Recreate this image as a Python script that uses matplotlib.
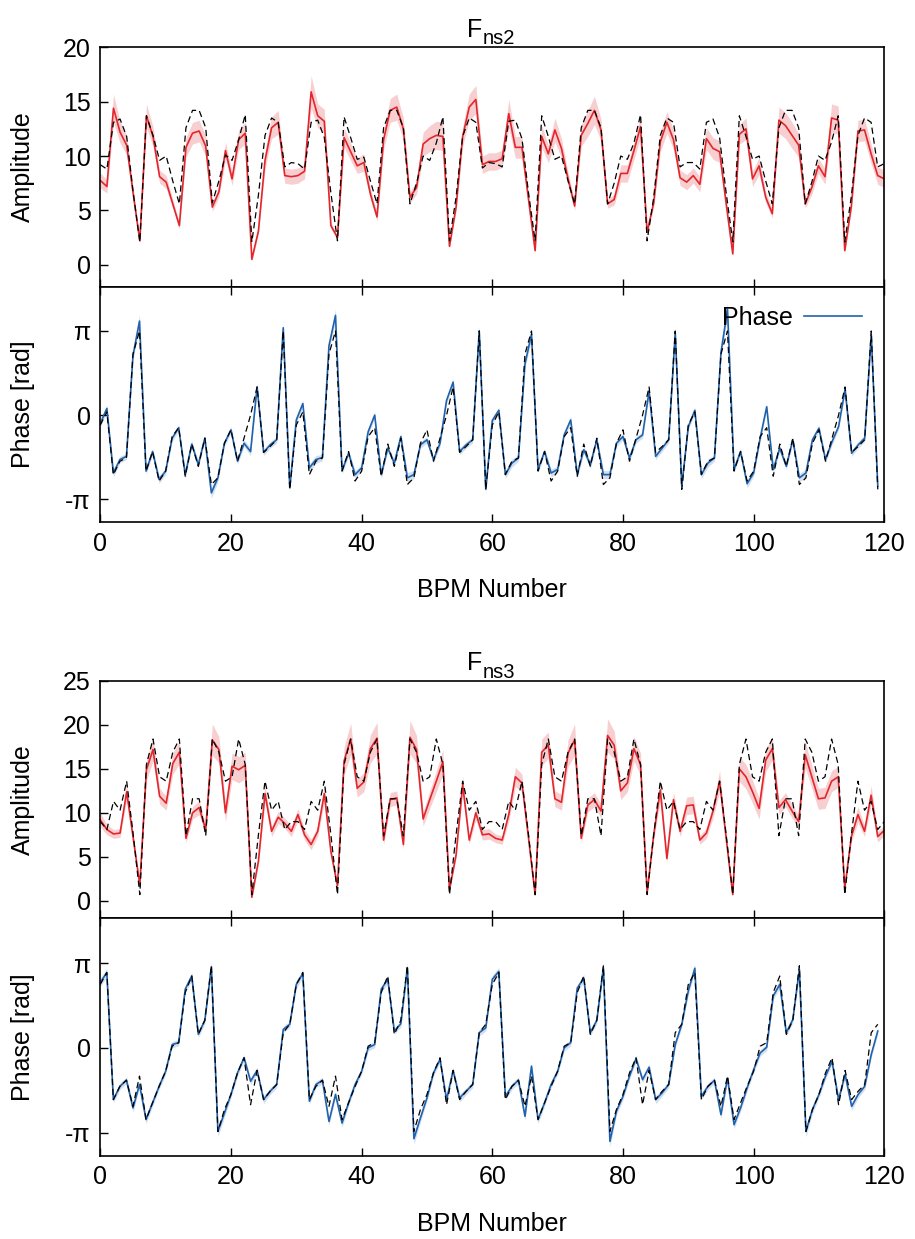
import numpy as np
import matplotlib
matplotlib.use("Agg")
import matplotlib.pyplot as plt

plt.rcParams['font.family'] = ['Liberation Sans', 'DejaVu Sans']

# ---------------------------------------------------------------- data
bpm = np.arange(120)

# F_ns2 amplitude: measured, its uncertainty, and model
ns2_amp = [7.75, 7.2, 14.4, 12.2, 11.0, 6.5, 2.2, 13.7, 11.8, 8.1,
           7.6, 5.6, 3.6, 10.8, 12.1, 12.3, 10.9, 5.3, 6.7, 10.5,
           7.9, 11.5, 12.1, 0.5, 3.1, 9.6, 12.6, 13.1, 8.2, 8.1,
           8.2, 8.6, 15.9, 13.7, 13.2, 3.6, 2.5, 11.7, 10.4, 9.1,
           9.4, 6.5, 4.4, 11.5, 14.2, 14.5, 12.5, 6.2, 7.1, 11.1,
           11.6, 11.9, 11.8, 1.7, 5.3, 11.8, 14.5, 15.2, 9.2, 9.5,
           9.5, 9.75, 13.9, 10.8, 10.8, 6.0, 1.3, 11.8, 10.2, 12.4,
           10.7, 7.9, 5.4, 11.9, 13.0, 14.2, 12.4, 5.6, 6.0, 8.4,
           8.4, 10.5, 12.7, 3.0, 5.7, 11.3, 13.1, 11.5, 8.0, 7.6,
           8.2, 7.4, 11.6, 10.7, 10.4, 5.6, 1.0, 12.0, 12.5, 7.9,
           9.1, 6.2, 4.7, 13.3, 12.8, 11.9, 11.0, 5.6, 7.1, 9.1,
           8.1, 13.5, 13.3, 1.3, 5.4, 12.3, 12.4, 10.2, 8.2, 7.9]
ns2_amp_err = [0.7, 0.6, 1.3, 1.0, 0.9, 0.5, 0.2, 1.1, 0.9, 0.6,
               0.6, 0.4, 0.3, 0.9, 1.0, 1.0, 0.9, 0.4, 0.5, 0.8,
               0.6, 0.9, 1.0, 0.2, 0.3, 0.8, 1.0, 1.1, 0.7, 0.7,
               0.7, 0.7, 1.5, 1.1, 1.1, 0.3, 0.2, 0.9, 0.8, 0.7,
               0.8, 0.5, 0.4, 0.9, 1.1, 1.2, 1.0, 0.5, 0.6, 1.1,
               1.2, 1.3, 1.3, 0.2, 0.4, 0.9, 1.2, 1.3, 0.8, 0.8,
               0.8, 0.8, 1.3, 1.0, 1.0, 0.5, 0.2, 1.0, 0.8, 1.1,
               0.9, 0.6, 0.4, 1.0, 1.2, 1.3, 1.0, 0.4, 0.5, 0.8,
               0.8, 0.8, 1.0, 0.3, 0.4, 0.9, 1.0, 0.9, 0.7, 0.7,
               0.7, 0.7, 1.0, 1.0, 1.0, 0.4, 0.2, 0.9, 1.0, 0.7,
               0.8, 0.5, 0.4, 1.2, 1.2, 1.2, 1.1, 0.4, 0.6, 0.7,
               0.7, 1.3, 1.3, 0.2, 0.4, 1.0, 1.0, 0.9, 0.8, 0.8]
ns2_amp_model = [9.2, 8.8, 13.1, 13.4, 11.8, 6.6, 2.1, 13.7, 11.9, 9.6,
                 10.0, 7.7, 5.6, 12.6, 14.2, 14.2, 12.6, 5.7, 7.7, 10.1,
                 9.6, 11.5, 13.8, 2.1, 6.4, 11.9, 13.5, 13.1, 9.0, 9.4,
                 9.3, 8.8, 13.1, 13.3, 11.7, 6.6, 2.2, 13.6, 11.7, 9.7,
                 9.9, 7.7, 5.6, 12.6, 14.2, 14.2, 12.6, 5.6, 7.5, 10.0,
                 9.6, 11.2, 13.6, 2.2, 6.2, 11.8, 13.5, 13.1, 8.9, 9.4,
                 9.3, 9.0, 13.2, 13.3, 11.6, 6.6, 2.2, 13.7, 11.8, 9.7,
                 10.0, 7.7, 5.6, 12.6, 14.2, 14.2, 12.6, 5.6, 7.5, 10.0,
                 9.7, 11.2, 13.8, 2.2, 6.2, 11.9, 13.5, 13.1, 9.0, 9.4,
                 9.4, 8.8, 13.1, 13.4, 11.7, 6.6, 2.1, 13.7, 11.8, 9.7,
                 10.0, 7.7, 5.6, 12.6, 14.2, 14.2, 12.6, 5.6, 7.6, 10.0,
                 9.6, 11.3, 13.7, 2.1, 6.3, 11.9, 13.5, 13.1, 9.0, 9.3]

# F_ns2 phase [rad]
ns2_phase = [-0.31, 0.25, -2.16, -1.66, -1.54, 2.22, 3.51, -2.09, -1.36, -2.40,
             -2.09, -0.86, -0.47, -2.22, -1.08, -1.85, -0.86, -2.90, -2.34, -1.05,
             -0.55, -1.72, -1.05, -1.36, 1.05, -1.39, -1.11, -0.92, 3.26, -2.71,
             -0.18, 0.43, -1.97, -1.66, -1.58, 2.59, 3.72, -2.07, -1.42, -2.22,
             -1.97, -0.62, 0.00, -2.22, -1.23, -1.79, -0.80, -2.34, -2.22, -1.11,
             -0.92, -1.66, -1.05, 0.55, 1.23, -1.36, -1.11, -0.92, 3.14, -2.77,
             -0.20, 0.18, -2.22, -1.79, -1.60, 1.91, 3.02, -2.03, -1.36, -2.16,
             -2.03, -0.74, -0.18, -2.22, -1.29, -1.85, -0.92, -2.22, -2.22, -1.05,
             -0.80, -1.60, -0.92, -0.74, 0.89, -1.54, -1.23, -0.92, 3.08, -2.65,
             -0.43, 0.18, -2.22, -1.79, -1.60, 2.34, 3.94, -2.03, -1.36, -2.56,
             -2.16, -0.86, 0.31, -2.03, -1.23, -1.91, -0.92, -2.34, -2.16, -0.92,
             -0.49, -1.66, -0.99, -0.43, 0.96, -1.42, -1.11, -0.86, 3.02, -2.65]
ns2_phase_err = [0.12, 0.12, 0.15, 0.12, 0.12, 0.15, 0.25, 0.12, 0.12, 0.15,
                 0.12, 0.12, 0.12, 0.15, 0.12, 0.12, 0.12, 0.2, 0.15, 0.12,
                 0.12, 0.12, 0.12, 0.15, 0.12, 0.12, 0.12, 0.12, 0.2, 0.15,
                 0.12, 0.12, 0.15, 0.15, 0.12, 0.15, 0.25, 0.12, 0.12, 0.15,
                 0.12, 0.12, 0.12, 0.15, 0.12, 0.12, 0.12, 0.2, 0.15, 0.12,
                 0.12, 0.12, 0.12, 0.12, 0.12, 0.12, 0.12, 0.12, 0.2, 0.15,
                 0.12, 0.12, 0.15, 0.15, 0.12, 0.15, 0.2, 0.12, 0.12, 0.15,
                 0.12, 0.12, 0.12, 0.15, 0.12, 0.15, 0.12, 0.15, 0.15, 0.12,
                 0.12, 0.12, 0.12, 0.12, 0.12, 0.12, 0.12, 0.12, 0.2, 0.15,
                 0.12, 0.12, 0.15, 0.15, 0.12, 0.15, 0.25, 0.12, 0.12, 0.15,
                 0.12, 0.12, 0.12, 0.15, 0.12, 0.12, 0.12, 0.15, 0.15, 0.12,
                 0.12, 0.12, 0.12, 0.12, 0.12, 0.12, 0.12, 0.12, 0.2, 0.15]
ns2_phase_model = [-0.37, 0.12, -2.22, -1.72, -1.60, 2.28, 3.14, -2.09, -1.36, -2.46,
                   -2.09, -0.80, -0.47, -2.28, -1.08, -1.91, -0.86, -2.59, -2.34, -1.05,
                   -0.55, -1.72, -0.86, 0.00, 1.05, -1.39, -1.17, -0.92, 3.14, -2.77,
                   -0.37, 0.12, -2.22, -1.72, -1.60, 2.28, 3.14, -2.09, -1.36, -2.46,
                   -2.09, -0.80, -0.47, -2.28, -1.08, -1.91, -0.86, -2.59, -2.34, -1.05,
                   -0.55, -1.72, -0.86, 0.00, 1.05, -1.39, -1.17, -0.92, 3.14, -2.77,
                   -0.37, 0.12, -2.22, -1.72, -1.60, 2.28, 3.14, -2.09, -1.36, -2.46,
                   -2.09, -0.80, -0.47, -2.28, -1.08, -1.91, -0.86, -2.59, -2.34, -1.05,
                   -0.55, -1.72, -0.86, 0.00, 1.05, -1.39, -1.17, -0.92, 3.14, -2.77,
                   -0.37, 0.12, -2.22, -1.72, -1.60, 2.28, 3.14, -2.09, -1.36, -2.46,
                   -2.09, -0.80, -0.47, -2.28, -1.08, -1.91, -0.86, -2.59, -2.34, -1.05,
                   -0.55, -1.72, -0.86, 0.00, 1.05, -1.39, -1.17, -0.92, 3.14, -2.77]

# F_ns3 amplitude
ns3_amp = [9.2, 8.1, 7.6, 7.7, 12.4, 7.1, 1.8, 14.9, 17.2, 11.9,
           11.1, 15.6, 16.9, 7.1, 10.0, 10.6, 8.1, 18.3, 17.2, 10.0,
           15.3, 14.9, 15.4, 0.4, 4.5, 12.2, 7.9, 9.5, 8.8, 7.9,
           9.8, 7.5, 6.4, 7.9, 12.2, 5.6, 1.7, 15.9, 18.4, 12.8,
           13.5, 17.3, 18.5, 6.9, 11.5, 11.7, 6.4, 18.6, 17.2, 9.3,
           11.5, 13.6, 15.8, 1.25, 5.2, 13.2, 6.9, 10.0, 7.5, 7.6,
           7.1, 6.9, 9.8, 14.1, 13.4, 7.1, 0.7, 16.9, 17.7, 11.6,
           11.2, 16.8, 18.3, 7.1, 10.9, 11.5, 10.2, 18.8, 17.7, 12.5,
           13.4, 17.3, 15.5, 0.9, 7.5, 12.6, 4.8, 11.5, 7.9, 10.8,
           10.9, 6.9, 7.7, 10.2, 13.6, 7.1, 0.7, 15.0, 14.1, 12.4,
           10.5, 16.0, 17.3, 10.6, 11.5, 10.2, 9.0, 16.6, 14.1, 11.6,
           11.7, 13.6, 14.1, 1.4, 7.3, 9.8, 7.9, 12.0, 7.3, 8.0]
ns3_amp_err = [0.8, 0.6, 0.5, 0.5, 0.9, 0.5, 0.2, 1.2, 1.3, 0.9,
               0.8, 1.2, 1.3, 0.5, 0.7, 0.8, 0.6, 1.8, 1.5, 1.0,
               1.5, 1.5, 1.5, 0.2, 0.4, 0.9, 0.6, 0.7, 0.6, 0.6,
               0.7, 0.6, 0.6, 0.6, 0.9, 0.4, 0.2, 1.6, 1.8, 1.0,
               1.1, 1.6, 1.8, 0.5, 0.8, 0.8, 0.5, 1.9, 1.6, 0.8,
               1.0, 1.2, 1.4, 0.2, 0.4, 1.0, 0.5, 0.8, 0.6, 0.6,
               0.5, 0.5, 0.8, 1.1, 1.0, 0.5, 0.2, 1.5, 1.5, 0.9,
               0.9, 1.5, 1.8, 0.5, 0.8, 0.8, 0.8, 1.9, 1.6, 1.0,
               1.0, 1.4, 1.3, 0.2, 0.6, 1.2, 0.4, 0.9, 0.6, 1.0,
               1.0, 0.5, 0.6, 0.8, 1.2, 0.5, 0.2, 1.4, 1.4, 1.3,
               1.2, 1.3, 1.3, 0.8, 0.8, 0.8, 0.7, 1.5, 1.3, 1.2,
               1.2, 1.2, 1.2, 0.2, 0.6, 0.9, 0.6, 1.1, 0.6, 0.6]
ns3_amp_model = [9.0, 8.1, 11.3, 10.3, 13.6, 7.5, 0.7, 15.5, 18.4, 14.1,
                 13.6, 16.9, 18.4, 7.4, 11.6, 11.6, 7.4, 18.4, 16.9, 13.6,
                 14.1, 18.4, 15.5, 0.7, 7.5, 13.6, 10.3, 11.3, 8.1, 9.0,
                 9.0, 8.1, 11.3, 10.3, 13.6, 7.5, 0.7, 15.5, 18.4, 14.1,
                 13.6, 16.9, 18.4, 7.4, 11.6, 11.6, 7.4, 18.4, 16.9, 13.6,
                 14.1, 18.4, 15.5, 0.7, 7.5, 13.6, 10.3, 11.3, 8.1, 9.0,
                 9.0, 8.1, 11.3, 10.3, 13.6, 7.5, 0.7, 15.5, 18.4, 14.1,
                 13.6, 16.9, 18.4, 7.4, 11.6, 11.6, 7.4, 18.4, 16.9, 13.6,
                 14.1, 18.4, 15.5, 0.7, 7.5, 13.6, 10.3, 11.3, 8.1, 9.0,
                 9.0, 8.1, 11.3, 10.3, 13.6, 7.5, 0.7, 15.5, 18.4, 14.1,
                 13.6, 16.9, 18.4, 7.4, 11.6, 11.6, 7.4, 18.4, 16.9, 13.6,
                 14.1, 18.4, 15.5, 0.7, 7.5, 13.6, 10.3, 11.3, 8.1, 9.0]

# F_ns3 phase [rad]
ns3_phase = [2.42, 2.79, -1.92, -1.43, -1.20, -2.23, -1.36, -2.66, -2.04, -1.43,
             -0.87, 0.12, 0.19, 2.17, 2.66, 0.50, 1.02, 3.00, -3.10, -2.42,
             -1.73, -0.93, -0.37, -1.24, -0.84, -1.92, -1.61, -1.36, 0.68, 0.87,
             2.35, 2.75, -1.98, -1.36, -1.21, -2.73, -1.73, -2.79, -2.04, -1.36,
             -0.87, 0.00, 0.12, 2.17, 2.54, 0.62, 0.89, 2.97, -3.37, -2.60,
             -1.86, -0.93, -0.43, -1.92, -0.84, -1.86, -1.61, -1.36, 0.56, 0.74,
             2.54, 2.83, -1.80, -1.43, -1.20, -2.54, -0.68, -2.66, -2.04, -1.36,
             -0.87, 0.00, 0.19, 2.21, 2.58, 0.56, 1.02, 2.97, -3.47, -2.35,
             -1.80, -1.05, -0.40, -1.18, -0.72, -1.92, -1.67, -1.36, 0.12, 0.87,
             2.11, 2.95, -1.80, -1.43, -1.21, -2.48, -1.12, -2.85, -2.23, -1.49,
             -0.81, -0.19, 0.02, 1.92, 2.35, 0.56, 1.05, 2.91, -3.10, -2.29,
             -1.73, -1.05, -0.50, -1.92, -0.99, -2.17, -1.73, -1.43, -0.25, 0.62]
ns3_phase_err = [0.15, 0.15, 0.12, 0.12, 0.12, 0.15, 0.12, 0.15, 0.12, 0.12,
                 0.12, 0.12, 0.12, 0.12, 0.15, 0.12, 0.12, 0.2, 0.2, 0.15,
                 0.12, 0.12, 0.12, 0.12, 0.12, 0.15, 0.12, 0.12, 0.12, 0.12,
                 0.15, 0.15, 0.12, 0.12, 0.12, 0.15, 0.12, 0.15, 0.12, 0.12,
                 0.12, 0.12, 0.12, 0.12, 0.15, 0.12, 0.12, 0.2, 0.2, 0.15,
                 0.12, 0.12, 0.12, 0.12, 0.12, 0.15, 0.12, 0.12, 0.12, 0.12,
                 0.15, 0.15, 0.12, 0.12, 0.12, 0.15, 0.12, 0.15, 0.12, 0.12,
                 0.12, 0.12, 0.12, 0.12, 0.15, 0.12, 0.12, 0.2, 0.2, 0.15,
                 0.12, 0.12, 0.12, 0.12, 0.12, 0.15, 0.12, 0.12, 0.12, 0.12,
                 0.15, 0.15, 0.12, 0.12, 0.12, 0.15, 0.12, 0.15, 0.12, 0.12,
                 0.12, 0.12, 0.12, 0.12, 0.15, 0.12, 0.12, 0.2, 0.2, 0.15,
                 0.12, 0.12, 0.12, 0.12, 0.12, 0.15, 0.12, 0.12, 0.12, 0.12]
ns3_phase_model = [2.35, 2.79, -1.92, -1.43, -1.20, -2.17, -1.05, -2.66, -2.04, -1.43,
                   -0.87, 0.06, 0.19, 2.05, 2.66, 0.50, 1.02, 3.04, -3.10, -2.29,
                   -1.73, -0.93, -0.37, -2.11, -0.84, -1.92, -1.61, -1.36, 0.56, 0.87,
                   2.35, 2.79, -1.92, -1.43, -1.20, -2.17, -1.05, -2.66, -2.04, -1.43,
                   -0.87, 0.06, 0.19, 2.05, 2.66, 0.50, 1.02, 3.04, -3.10, -2.29,
                   -1.73, -0.93, -0.37, -2.11, -0.84, -1.92, -1.61, -1.36, 0.56, 0.87,
                   2.35, 2.79, -1.92, -1.43, -1.20, -2.17, -1.05, -2.66, -2.04, -1.43,
                   -0.87, 0.06, 0.19, 2.05, 2.66, 0.50, 1.02, 3.04, -3.10, -2.29,
                   -1.73, -0.93, -0.37, -2.11, -0.84, -1.92, -1.61, -1.36, 0.56, 0.87,
                   2.35, 2.79, -1.92, -1.43, -1.20, -2.17, -1.05, -2.66, -2.04, -1.43,
                   -0.87, 0.06, 0.19, 2.05, 2.66, 0.50, 1.02, 3.04, -3.10, -2.29,
                   -1.73, -0.93, -0.37, -2.11, -0.84, -1.92, -1.61, -1.36, 0.56, 0.87]

titles = ["ns2", "ns3"]
x_ticks = [0, 20, 40, 60, 80, 100, 120]
phase_ticks = [-np.pi, 0, np.pi]
phase_ticklabels = ["-\u03c0", "0", "\u03c0"]

# ---------------------------------------------------------------- style
RED = "#e3262c"
BLUE = "#2062ad"
FS = 18
FS_SUB = 14.5

# amplitude samples are spread evenly over the full 0..120 span
amp_x = bpm * 120.0 / 119.0

W, H = 915, 1239
fig = plt.figure(figsize=(W / 100, H / 100), dpi=100)


def axes_px(top, bottom, left=100.3, right=884.3):
    return fig.add_axes([left / W, 1 - bottom / H, (right - left) / W, (bottom - top) / H])


def style(ax, top_ticks):
    for s in ax.spines.values():
        s.set_linewidth(1.2)
    ax.tick_params(axis="both", direction="in", length=6, width=1.0,
                   labelsize=FS, top=top_ticks, right=False)
    ax.tick_params(axis="y", pad=7)
    ax.tick_params(axis="x", pad=7)
    ax.set_xlim(0, 120)
    ax.set_xticks(x_ticks)


def amp_panel(ax, meas, err, model, ymax, yticks):
    meas = np.asarray(meas)
    err = np.asarray(err)
    ax.fill_between(amp_x, meas - err, meas + err, color=RED, alpha=0.22, lw=0)
    ax.plot(amp_x, meas, color=RED, lw=1.2)
    ax.plot(amp_x, model, color="black", lw=0.9, dashes=(5, 3))
    ax.set_ylim(-2, ymax)
    ax.set_yticks(yticks)
    style(ax, top_ticks=False)
    ax.tick_params(axis="x", labelbottom=False)
    ax.set_ylabel("Amplitude", fontsize=FS)
    ax.yaxis.set_label_coords(-0.083, 0.5)


def phase_panel(ax, meas, err, model, legend):
    meas = np.asarray(meas)
    err = np.asarray(err)
    ax.fill_between(bpm, meas - err, meas + err, color=BLUE, alpha=0.2, lw=0)
    ax.plot(bpm, meas, color=BLUE, lw=1.2, label="Phase")
    ax.plot(bpm, model, color="black", lw=0.9, dashes=(5, 3))
    ax.set_ylim(-4.0, 4.8)
    ax.set_yticks(phase_ticks)
    ax.set_yticklabels(phase_ticklabels)
    style(ax, top_ticks=True)
    ax.set_ylabel("Phase [rad]", fontsize=FS)
    ax.yaxis.set_label_coords(-0.083, 0.5)
    ax.set_xlabel("BPM Number", fontsize=FS, labelpad=16)
    if legend:
        ax.legend(loc="center right", bbox_to_anchor=(0.9715, 0.866),
                  frameon=False, markerfirst=False, fontsize=FS,
                  handlelength=2.3, handletextpad=0.45,
                  borderpad=0, borderaxespad=0)


def panel_title(ax, sub):
    # "F" with a subscript drawn as a separate, smaller text
    main = ax.text(0.468, 1.045, "F", transform=ax.transAxes,
                   ha="left", va="baseline", fontsize=FS)
    ax.annotate(sub, xy=(1.0, 0.0), xycoords=main, xytext=(0.5, -4.5),
                textcoords="offset points", ha="left", va="bottom",
                fontsize=FS_SUB)


ax1 = axes_px(47.3, 286.5)
amp_panel(ax1, ns2_amp, ns2_amp_err, ns2_amp_model, 20, [0, 5, 10, 15, 20])
ax2 = axes_px(286.5, 522.3)
phase_panel(ax2, ns2_phase, ns2_phase_err, ns2_phase_model, legend=True)

ax3 = axes_px(681.0, 918.3)
amp_panel(ax3, ns3_amp, ns3_amp_err, ns3_amp_model, 25, [0, 5, 10, 15, 20, 25])
ax4 = axes_px(918.3, 1155.7)
phase_panel(ax4, ns3_phase, ns3_phase_err, ns3_phase_model, legend=False)

for ax, name in zip([ax1, ax3], titles):
    panel_title(ax, name)

fig.savefig("out.png", dpi=100)
